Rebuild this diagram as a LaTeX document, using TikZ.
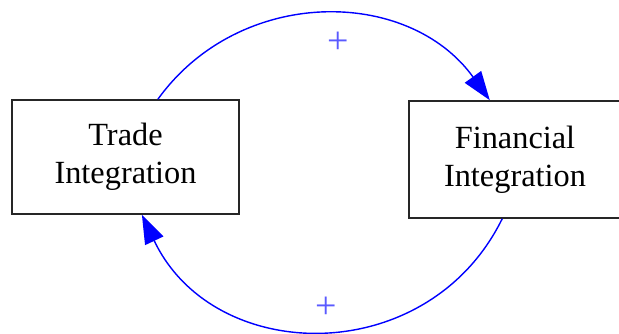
\documentclass[tikz,border=0pt]{standalone}
\usepackage{fontspec}
\setmainfont{Liberation Serif}
\usepackage{tikz}
\usetikzlibrary{arrows.meta,positioning}
\definecolor{lien}{RGB}{0,0,255}
\definecolor{signe}{RGB}{90,90,255}

\begin{document}
\begin{tikzpicture}[x=0.025cm, y=-0.025cm,
  bloc/.style={draw=black!85, line width=1.1pt, fill=white, align=center, inner sep=0pt,
    font=\fontsize{23}{27}\selectfont},
  boucle/.style={-{Triangle[length=7.2mm, width=5mm]}, color=lien, line width=1pt},
  signe/.style={text=signe, font=\fontsize{27}{27}\selectfont, inner sep=0pt}]
\useasboundingbox (0,0) rectangle (619,334);
\node[bloc, minimum width=5.675cm, minimum height=2.85cm] (trade) at (125.5,157) {Trade\\Integration};
\node[bloc, minimum width=5.3cm, minimum height=2.925cm] (fin) at (515,159.5) {Financial\\Integration};
\coordinate (t1) at ([xshift=0.81cm]trade.north);
\coordinate (f1) at ([xshift=-0.63cm]fin.north);
\coordinate (f2) at ([xshift=-0.32cm]fin.south);
\coordinate (t2) at ([xshift=0.41cm]trade.south);
% arcs de cercle
\draw[boucle] (t1) .. controls +(81.7,-113.2) and +(-81.7,-113.2) .. (f1);
\draw[boucle] (f2) .. controls +(-74.1,150.5) and +(72,151.6) .. (t2);
\node[signe] (plus1) at (338,43) {+};
\node[signe] (plus2) at (326,308) {+};
\end{tikzpicture}
\end{document}
